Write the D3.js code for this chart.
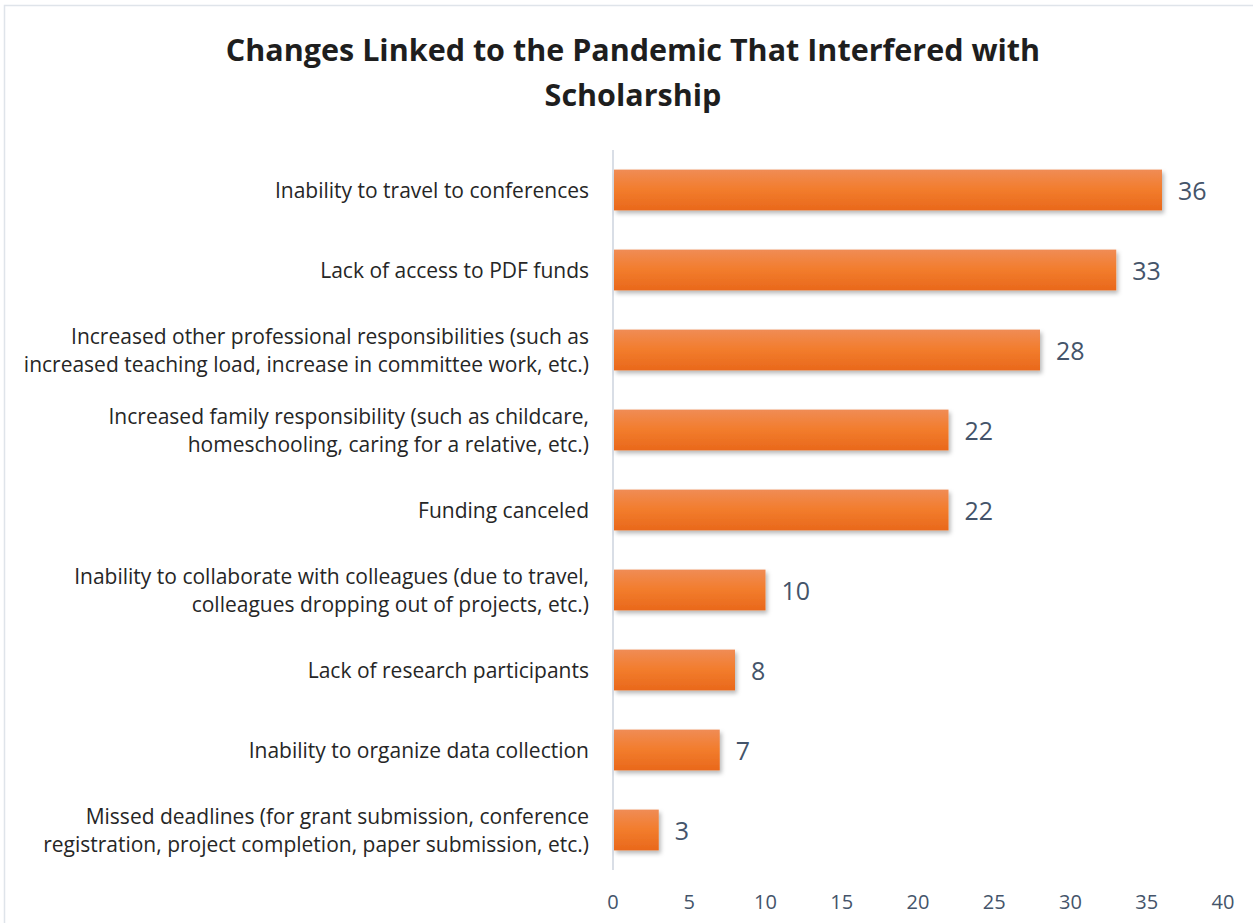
<!DOCTYPE html>
<html>
<head>
<meta charset="utf-8">
<script src="https://cdn.jsdelivr.net/npm/d3@7"></script>
<style>
  html, body { margin: 0; padding: 0; background: #fff; }
  svg { display: block; }
</style>
</head>
<body>
<svg id="chart" width="1253" height="923"></svg>
<script>
// Chart content
const titleLines = ["Changes Linked to the Pandemic That Interfered with", "Scholarship"];
const categories = [
  ["Inability to travel to conferences"],
  ["Lack of access to PDF funds"],
  ["Increased other professional responsibilities (such as", "increased teaching load, increase in committee work, etc.)"],
  ["Increased family responsibility (such as childcare,", "homeschooling, caring for a relative, etc.)"],
  ["Funding canceled"],
  ["Inability to collaborate with colleagues (due to travel,", "colleagues dropping out of projects, etc.)"],
  ["Lack of research participants"],
  ["Inability to organize data collection"],
  ["Missed deadlines (for grant submission, conference", "registration, project completion, paper submission, etc.)"]
];
const values = [36, 33, 28, 22, 22, 10, 8, 7, 3];
const xTicks = [0, 5, 10, 15, 20, 25, 30, 35, 40];

const svg = d3.select("#chart");
const W = 1253, H = 923;
const font = "'Open Sans', Lato, sans-serif";

// Frame (top and left edge)
svg.append("path")
  .attr("d", `M4.5,${H} V5.5 H${W}`)
  .attr("fill", "none").attr("stroke", "#dfe4ea").attr("stroke-width", 1.5);

// Title
svg.append("text")
  .attr("text-anchor", "middle")
  .attr("font-family", font).attr("font-weight", 700).attr("font-size", 30.5)
  .attr("fill", "#1e1e1e")
  .selectAll("tspan").data(titleLines).join("tspan")
  .attr("x", 633).attr("y", (d, i) => 61 + i * 45)
  .text(d => d);

const x = d3.scaleLinear().domain([0, 40]).range([613, 1223]);
const y = d3.scaleBand().domain(d3.range(categories.length)).range([150, 870]).paddingInner(0.49).paddingOuter(0.245);

// Bar gradient and shadow
const defs = svg.append("defs");
const grad = defs.append("linearGradient").attr("id", "barGrad")
  .attr("x1", 0).attr("y1", 0).attr("x2", 0).attr("y2", 1);
grad.append("stop").attr("offset", "0%").attr("stop-color", "#f08c55");
grad.append("stop").attr("offset", "50%").attr("stop-color", "#f27c2c");
grad.append("stop").attr("offset", "100%").attr("stop-color", "#e9681b");
const shadow = defs.append("filter").attr("id", "shadow")
  .attr("x", "-10%").attr("y", "-20%").attr("width", "130%").attr("height", "160%");
shadow.append("feDropShadow").attr("dx", 2).attr("dy", 3).attr("stdDeviation", 2)
  .attr("flood-color", "#000").attr("flood-opacity", 0.28);

// Vertical category axis line
svg.append("line")
  .attr("x1", x(0)).attr("x2", x(0))
  .attr("y1", 150).attr("y2", 870)
  .attr("stroke", "#d9dee6").attr("stroke-width", 2);

// Bars
svg.append("g").selectAll("rect").data(values).join("rect")
  .attr("x", x(0) + 1)
  .attr("y", (d, i) => y(i))
  .attr("width", d => x(d) - x(0) - 1)
  .attr("height", y.bandwidth())
  .attr("fill", "url(#barGrad)")
  .attr("filter", "url(#shadow)");

// Value labels
svg.append("g").selectAll("text").data(values).join("text")
  .attr("x", d => x(d) + 16)
  .attr("y", (d, i) => y(i) + y.bandwidth() / 2 + 9.5)
  .attr("font-family", font).attr("font-size", 25)
  .attr("fill", "#44546a")
  .text(d => d);

// Category labels
const catG = svg.append("g");
categories.forEach((lines, i) => {
  const cy = y(i) + y.bandwidth() / 2;
  const lh = 28;
  const t = catG.append("text")
    .attr("text-anchor", "end")
    .attr("font-family", font).attr("font-size", 21)
    .attr("fill", "#262626");
  lines.forEach((ln, j) => {
    t.append("tspan")
      .attr("x", 589)
      .attr("y", cy + 8 + (j - (lines.length - 1) / 2) * lh)
      .text(ln);
  });
});

// X axis tick labels
svg.append("g").selectAll("text").data(xTicks).join("text")
  .attr("x", d => x(d))
  .attr("y", 909)
  .attr("text-anchor", "middle")
  .attr("font-family", font).attr("font-size", 20)
  .attr("fill", "#44546a")
  .text(d => d);
</script>
</body>
</html>
